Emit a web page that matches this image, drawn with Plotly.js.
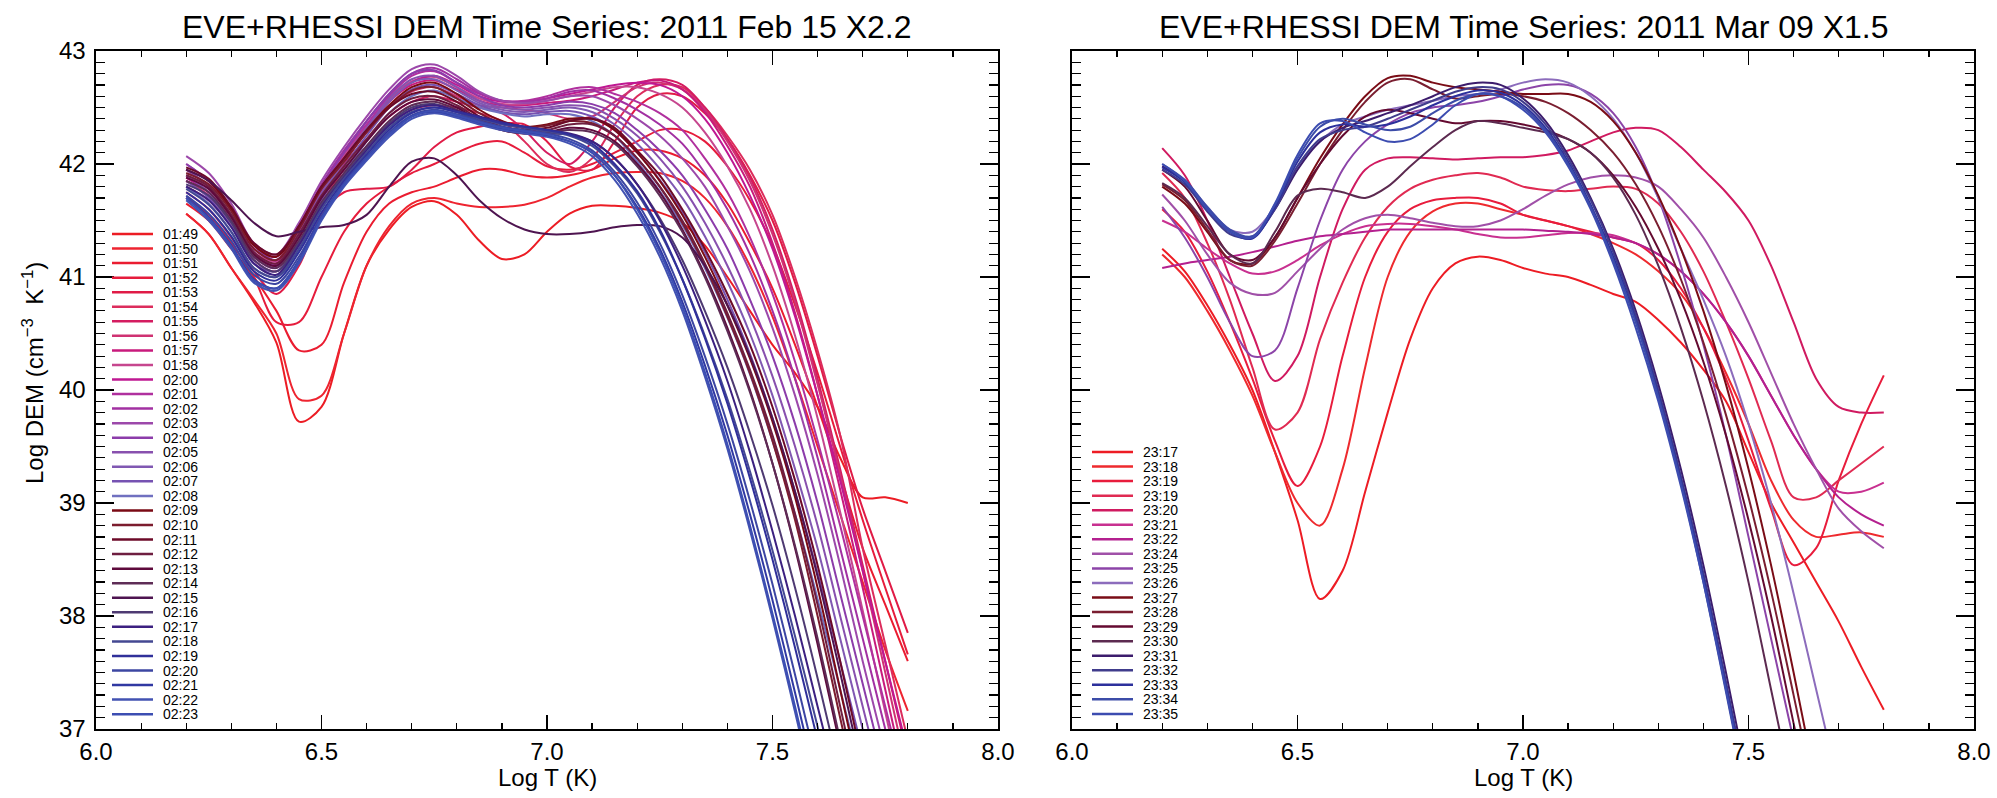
<!DOCTYPE html>
<html>
<head>
<meta charset="utf-8">
<script src="https://cdn.plot.ly/plotly-3.0.1.min.js"></script>
<style>html,body{margin:0;padding:0;background:#fff}#chart{width:1997px;height:798px}</style>
</head>
<body>
<div id="chart"></div>
<script>
// ---------- DATA ----------
const logT = [6.20,6.25,6.30,6.35,6.40,6.45,6.50,6.55,6.60,6.65,6.70,6.75,6.80,6.85,6.90,6.95,7.00,7.05,7.10,7.15,7.20,7.25,7.30,7.35,7.40,7.45,7.50,7.55,7.60,7.65,7.70,7.75,7.80];

// 2011 Feb 15 X2.2
const febLabels = ["01:49","01:50","01:51","01:52","01:53","01:54","01:55","01:56","01:57","01:58","02:00","02:01","02:02","02:03","02:04","02:05","02:06","02:07","02:08","02:09","02:10","02:11","02:12","02:13","02:14","02:15","02:16","02:17","02:18","02:19","02:20","02:21","02:22","02:23"];
const febColors = ["#ec1c24","#ee2430","#ea1c30","#e61c3c","#e01b46","#dc2c5c","#d41c60","#cf3272","#c81a7c","#c6468e","#bf1892","#b0309e","#a230a2","#9c48aa","#8c3caa","#8850ae","#8058b2","#7652b2","#7070c0","#7a0a14","#7c1c2e","#6c0a28","#6e1e40","#5e0a3c","#5e2c56","#4e1450","#4e3a72","#3c2080","#444892","#30309a","#3c46a2","#3038a2","#4252b2","#3c4eb2"];

const feb0149 = [41.56,41.38,41.08,40.78,40.42,39.72,39.85,40.50,41.10,41.42,41.62,41.67,41.55,41.32,41.16,41.20,41.40,41.56,41.63,41.63,41.61,41.57,41.48,41.28,41.00,40.70,40.40,40.15,39.85,39.40,39.05,39.05,39.00];
const feb0150 = [41.56,41.38,41.08,40.80,40.50,39.92,39.95,40.50,41.10,41.45,41.65,41.70,41.65,41.62,41.62,41.64,41.70,41.80,41.88,41.92,41.93,41.92,41.85,41.70,41.45,41.10,40.65,40.10,39.50,38.90,38.30,37.70,37.16];
const feb0151 = [41.65,41.50,41.25,41.00,40.70,40.35,40.40,40.95,41.40,41.65,41.75,41.80,41.88,41.95,41.95,41.90,41.88,41.90,41.95,42.05,42.12,42.12,42.05,41.90,41.65,41.30,40.90,40.40,39.85,39.25,38.60,38.10,37.60];
const feb0152 = [41.70,41.55,41.30,41.00,40.60,40.60,41.00,41.40,41.65,41.80,41.92,42.00,42.10,42.18,42.20,42.10,41.98,41.95,42.00,42.10,42.20,42.30,42.30,42.20,41.98,41.68,41.28,40.75,40.15,39.50,38.85,38.25,37.66];
const feb0153 = [41.75,41.60,41.35,41.05,40.85,41.10,41.55,41.75,41.78,41.80,41.95,42.15,42.28,42.33,42.36,42.35,42.20,41.98,41.95,42.20,42.50,42.62,42.60,42.45,42.22,41.90,41.50,40.95,40.30,39.60,38.95,38.40,37.85];
const feb0154 = [41.80,41.68,41.45,41.15,41.05,41.30,41.65,41.95,42.15,42.35,42.48,42.52,42.50,42.45,42.38,42.20,42.00,41.93,42.05,42.35,42.60,42.70,42.68,42.50,42.25,41.95,41.55,41.00,40.35,39.60,38.60,37.75,36.90];
const feb0155 = [41.85,41.72,41.50,41.20,41.10,41.35,41.70,42.00,42.22,42.42,42.55,42.60,42.55,42.50,42.45,42.30,42.10,42.00,42.20,42.50,42.70,42.75,42.70,42.50,42.22,41.88,41.42,40.82,40.10,39.30,38.45,37.60,36.75];
const feb0156 = [41.85,41.72,41.48,41.18,41.10,41.36,41.72,42.02,42.28,42.50,42.64,42.68,42.60,42.52,42.50,42.48,42.45,42.40,42.42,42.55,42.68,42.72,42.66,42.48,42.20,41.85,41.38,40.78,40.05,39.25,38.40,37.50,36.60];
const feb0157 = [41.88,41.75,41.50,41.20,41.12,41.40,41.76,42.06,42.32,42.55,42.70,42.74,42.66,42.56,42.52,42.52,42.54,42.56,42.60,42.66,42.72,42.74,42.66,42.46,42.16,41.80,41.30,40.68,39.95,39.12,38.25,37.35,36.45];
const feb0158 = [41.90,41.78,41.52,41.22,41.14,41.42,41.78,42.08,42.34,42.57,42.73,42.77,42.68,42.58,42.53,42.53,42.56,42.60,42.64,42.68,42.68,42.62,42.50,42.28,41.98,41.60,41.10,40.48,39.75,38.92,38.05,37.15,36.25];
const feb0200 = [41.88,41.75,41.50,41.20,41.12,41.38,41.75,42.05,42.30,42.55,42.72,42.78,42.70,42.60,42.55,42.55,42.58,42.62,42.66,42.70,42.72,42.70,42.60,42.40,42.10,41.72,41.25,40.65,39.95,39.20,38.40,37.60,36.80];
const feb0201 = [41.95,41.80,41.55,41.25,41.15,41.42,41.80,42.10,42.35,42.60,42.78,42.82,42.72,42.62,42.56,42.56,42.60,42.66,42.68,42.62,42.55,42.45,42.30,42.05,41.75,41.35,40.85,40.25,39.55,38.80,38.00,37.20,36.40];
const feb0202 = [42.00,41.85,41.60,41.28,41.18,41.45,41.82,42.12,42.38,42.62,42.80,42.85,42.75,42.63,42.56,42.55,42.58,42.64,42.65,42.58,42.48,42.35,42.18,41.92,41.60,41.20,40.70,40.10,39.40,38.60,37.80,37.00,36.20];
const feb0203 = [42.07,41.92,41.65,41.30,41.20,41.48,41.85,42.15,42.42,42.66,42.84,42.88,42.78,42.64,42.56,42.54,42.56,42.60,42.60,42.52,42.40,42.25,42.05,41.80,41.45,41.05,40.55,39.95,39.25,38.45,37.60,36.80,36.00];
const feb0204 = [42.00,41.85,41.60,41.28,41.15,41.42,41.80,42.10,42.38,42.62,42.80,42.83,42.72,42.60,42.52,42.50,42.52,42.55,42.53,42.45,42.30,42.12,41.90,41.60,41.25,40.80,40.30,39.70,39.00,38.20,37.40,36.60,35.80];
const feb0205 = [41.95,41.80,41.55,41.22,41.10,41.38,41.75,42.05,42.32,42.58,42.75,42.78,42.68,42.56,42.50,42.48,42.50,42.52,42.50,42.40,42.25,42.05,41.80,41.48,41.10,40.65,40.12,39.50,38.80,38.00,37.20,36.40,35.60];
const feb0206 = [41.90,41.75,41.50,41.18,41.08,41.35,41.72,42.02,42.30,42.55,42.72,42.75,42.65,42.54,42.48,42.46,42.48,42.50,42.46,42.35,42.18,41.96,41.70,41.36,40.96,40.50,39.95,39.30,38.60,37.80,37.00,36.20,35.40];
const feb0207 = [41.85,41.70,41.45,41.12,41.05,41.30,41.68,41.98,42.25,42.50,42.66,42.70,42.62,42.52,42.46,42.44,42.46,42.47,42.42,42.30,42.10,41.86,41.58,41.22,40.80,40.32,39.75,39.10,38.38,37.60,36.80,36.00,35.20];
const feb0208 = [41.80,41.65,41.40,41.08,41.00,41.25,41.62,41.92,42.20,42.45,42.60,42.65,42.58,42.50,42.45,42.42,42.44,42.44,42.38,42.25,42.02,41.76,41.46,41.08,40.64,40.14,39.55,38.90,38.15,37.35,36.55,35.75,34.95];
const feb0209 = [41.95,41.85,41.60,41.28,41.18,41.45,41.80,42.05,42.30,42.52,42.68,42.72,42.62,42.48,42.38,42.33,42.35,42.40,42.40,42.30,42.10,41.85,41.55,41.18,40.75,40.28,39.72,39.05,38.25,37.35,36.45,35.55,34.65];
const feb0210 = [41.92,41.82,41.58,41.25,41.15,41.42,41.78,42.02,42.28,42.50,42.65,42.68,42.58,42.45,42.36,42.32,42.34,42.38,42.36,42.25,42.05,41.80,41.48,41.10,40.65,40.15,39.55,38.85,38.00,37.10,36.20,35.30,34.40];
const feb0211 = [41.97,41.87,41.62,41.30,41.20,41.45,41.80,42.05,42.30,42.50,42.62,42.64,42.55,42.42,42.33,42.30,42.32,42.38,42.40,42.32,42.12,41.90,41.60,41.25,40.85,40.40,39.85,39.20,38.45,37.60,36.70,35.80,34.90];
const feb0212 = [41.90,41.80,41.55,41.22,41.12,41.38,41.72,41.98,42.22,42.45,42.58,42.60,42.52,42.40,42.32,42.28,42.30,42.35,42.35,42.25,42.05,41.80,41.50,41.12,40.68,40.18,39.60,38.90,38.10,37.20,36.30,35.40,34.50];
const feb0213 = [41.88,41.78,41.53,41.20,41.10,41.35,41.70,41.95,42.20,42.42,42.55,42.57,42.50,42.38,42.30,42.27,42.28,42.32,42.30,42.20,42.00,41.75,41.42,41.02,40.55,40.00,39.35,38.60,37.75,36.85,35.95,35.05,34.15];
const feb0214 = [41.85,41.75,41.50,41.18,41.08,41.32,41.66,41.92,42.16,42.38,42.52,42.55,42.48,42.38,42.30,42.27,42.28,42.30,42.28,42.18,41.98,41.72,41.40,41.00,40.52,39.98,39.35,38.62,37.80,36.90,36.00,35.10,34.20];
const feb0215 = [41.95,41.85,41.68,41.48,41.36,41.40,41.44,41.46,41.55,41.80,42.02,42.05,41.90,41.68,41.52,41.42,41.38,41.38,41.40,41.44,41.46,41.45,41.35,41.10,40.75,40.30,39.75,39.10,38.35,37.50,36.60,35.70,34.80];
const feb0216 = [41.82,41.72,41.48,41.15,41.05,41.30,41.64,41.90,42.14,42.36,42.50,42.53,42.46,42.38,42.32,42.28,42.27,42.26,42.20,42.05,41.82,41.52,41.15,40.70,40.20,39.62,38.98,38.25,37.45,36.60,35.75,34.90,34.05];
const feb0217 = [41.80,41.68,41.44,41.12,41.02,41.28,41.62,41.88,42.12,42.34,42.48,42.52,42.47,42.42,42.37,42.33,42.30,42.27,42.20,42.05,41.82,41.50,41.10,40.62,40.08,39.45,38.75,38.00,37.20,36.40,35.60,34.80,34.00];
const feb0218 = [41.78,41.64,41.40,41.08,41.00,41.25,41.60,41.87,42.10,42.32,42.46,42.50,42.46,42.40,42.35,42.32,42.29,42.25,42.16,41.98,41.74,41.40,40.98,40.48,39.92,39.28,38.58,37.82,37.02,36.20,35.40,34.60,33.80];
const feb0219 = [41.75,41.60,41.36,41.05,40.97,41.22,41.57,41.85,42.08,42.30,42.45,42.50,42.46,42.41,42.36,42.33,42.30,42.26,42.18,42.00,41.76,41.42,40.98,40.46,39.88,39.22,38.50,37.72,36.90,36.10,35.30,34.50,33.70];
const feb0220 = [41.72,41.56,41.32,41.02,40.94,41.18,41.54,41.83,42.06,42.28,42.43,42.48,42.44,42.38,42.33,42.30,42.27,42.22,42.12,41.93,41.66,41.30,40.84,40.30,39.70,39.02,38.28,37.48,36.65,35.85,35.05,34.25,33.45];
const feb0221 = [41.70,41.53,41.28,40.98,40.90,41.15,41.52,41.82,42.05,42.26,42.42,42.46,42.42,42.36,42.31,42.28,42.25,42.20,42.10,41.90,41.62,41.25,40.78,40.22,39.60,38.90,38.14,37.32,36.48,35.68,34.88,34.08,33.28];
const feb0222 = [41.68,41.50,41.25,40.95,40.88,41.12,41.50,41.80,42.03,42.24,42.40,42.45,42.41,42.35,42.30,42.27,42.24,42.18,42.07,41.86,41.56,41.18,40.70,40.12,39.48,38.76,37.98,37.15,36.30,35.50,34.70,33.90,33.10];
const feb0223 = [41.70,41.52,41.27,40.97,40.90,41.14,41.52,41.82,42.05,42.26,42.42,42.47,42.43,42.37,42.32,42.29,42.26,42.20,42.10,41.90,41.60,41.22,40.74,40.16,39.52,38.80,38.02,37.20,36.35,35.55,34.75,33.95,33.15];
const febSeries = [feb0149,feb0150,feb0151,feb0152,feb0153,feb0154,feb0155,feb0156,feb0157,feb0158,feb0200,feb0201,feb0202,feb0203,feb0204,feb0205,feb0206,feb0207,feb0208,feb0209,feb0210,feb0211,feb0212,feb0213,feb0214,feb0215,feb0216,feb0217,feb0218,feb0219,feb0220,feb0221,feb0222,feb0223];

// 2011 Mar 09 X1.5
const marLabels = ["23:17","23:18","23:19","23:19","23:20","23:21","23:22","23:24","23:25","23:26","23:27","23:28","23:29","23:30","23:31","23:32","23:33","23:34","23:35"];
const marColors = ["#ed1c24","#ee2a2e","#e81c3c","#e02a52","#d01a60","#c83090","#b4208f","#a050a8","#8c44a8","#8c6cbc","#7a0c16","#7a1e30","#640a30","#5c2a50","#3c1c6c","#403c8c","#2c309c","#3c4ca8","#3c4cb0"];

const mar2317  = [41.25,41.05,40.75,40.40,40.00,39.45,38.85,38.15,38.40,39.10,39.80,40.45,40.90,41.12,41.18,41.15,41.08,41.03,41.00,40.93,40.85,40.78,40.62,40.42,40.18,39.90,39.45,39.00,38.65,38.30,37.95,37.55,37.17];
const mar2318  = [41.20,41.00,40.70,40.35,39.95,39.45,39.00,38.80,39.30,40.20,41.00,41.40,41.58,41.65,41.65,41.60,41.55,41.50,41.45,41.38,41.30,41.20,41.05,40.85,40.55,40.15,39.70,39.20,38.85,38.70,38.72,38.74,38.70];
const mar2319a = [41.60,41.40,41.05,40.60,40.10,39.55,39.15,39.50,40.30,41.00,41.40,41.60,41.68,41.70,41.70,41.65,41.55,41.50,41.45,41.40,41.35,41.30,41.15,40.90,40.55,40.10,39.55,38.95,38.45,38.60,39.20,39.70,40.13];
const mar2319b = [41.92,41.70,41.30,40.80,40.20,39.65,39.80,40.45,40.95,41.35,41.62,41.78,41.86,41.90,41.92,41.88,41.80,41.77,41.76,41.78,41.80,41.78,41.65,41.40,41.05,40.60,40.10,39.55,39.05,39.05,39.20,39.35,39.50];
const mar2320  = [42.14,41.90,41.50,41.00,40.50,40.08,40.30,41.00,41.60,41.95,42.05,42.06,42.05,42.04,42.05,42.06,42.06,42.08,42.12,42.20,42.28,42.32,42.30,42.15,41.95,41.75,41.50,41.10,40.60,40.10,39.85,39.80,39.80];
const mar2321  = [41.50,41.40,41.25,41.12,41.03,41.05,41.15,41.28,41.38,41.45,41.47,41.47,41.45,41.42,41.38,41.35,41.35,41.37,41.39,41.39,41.37,41.30,41.20,41.05,40.85,40.60,40.30,39.95,39.60,39.30,39.10,39.10,39.18];
const mar2322  = [41.08,41.12,41.15,41.18,41.22,41.27,41.32,41.36,41.38,41.40,41.42,41.42,41.42,41.42,41.42,41.42,41.42,41.41,41.40,41.38,41.35,41.30,41.20,41.05,40.85,40.60,40.30,39.95,39.60,39.30,39.05,38.90,38.80];
const mar2324  = [41.73,41.50,41.20,40.95,40.85,40.86,41.05,41.25,41.42,41.52,41.55,41.52,41.48,41.45,41.45,41.50,41.60,41.72,41.82,41.88,41.90,41.88,41.80,41.60,41.35,41.00,40.60,40.15,39.70,39.30,38.95,38.75,38.60];
const mar2325  = [41.62,41.35,41.00,40.60,40.30,40.35,40.90,41.50,41.95,42.20,42.35,42.45,42.50,42.52,42.55,42.60,42.66,42.70,42.70,42.62,42.45,42.15,41.70,41.10,40.40,39.60,38.70,37.80,36.90,36.00,35.10,34.20,33.30];
const mar2326  = [41.98,41.85,41.62,41.42,41.40,41.62,41.98,42.20,42.35,42.42,42.48,42.52,42.56,42.60,42.62,42.66,42.72,42.75,42.72,42.60,42.40,42.10,41.70,41.25,40.80,40.30,39.70,39.00,38.20,37.35,36.50,35.65,34.80];
const mar2327  = [41.80,41.65,41.40,41.15,41.12,41.35,41.70,42.05,42.35,42.60,42.76,42.78,42.72,42.68,42.66,42.64,42.62,42.62,42.62,42.55,42.38,42.10,41.72,41.25,40.70,40.05,39.30,38.45,37.50,36.50,35.50,34.50,33.50];
const mar2328  = [41.82,41.68,41.42,41.15,41.10,41.32,41.65,42.00,42.30,42.55,42.72,42.75,42.66,42.58,42.60,42.62,42.60,42.55,42.45,42.30,42.10,41.82,41.45,40.98,40.42,39.78,39.05,38.22,37.30,36.35,35.40,34.45,33.50];
const mar2329  = [41.95,41.80,41.50,41.20,41.15,41.35,41.70,42.00,42.25,42.42,42.48,42.45,42.40,42.36,42.38,42.38,42.35,42.30,42.22,42.10,41.90,41.62,41.25,40.80,40.25,39.60,38.85,38.00,37.05,36.10,35.15,34.20,33.25];
const mar2330  = [41.83,41.70,41.45,41.20,41.12,41.40,41.72,41.78,41.75,41.70,41.80,41.98,42.15,42.30,42.38,42.36,42.32,42.28,42.22,42.10,41.88,41.55,41.10,40.55,39.90,39.15,38.30,37.35,36.40,35.45,34.50,33.55,32.60];
const mar2331  = [41.98,41.85,41.60,41.40,41.36,41.60,41.95,42.20,42.32,42.38,42.45,42.52,42.60,42.68,42.72,42.70,42.58,42.38,42.08,41.70,41.25,40.70,40.05,39.30,38.45,37.50,36.50,35.50,34.50,33.50,32.50,31.50,30.50];
const mar2332  = [41.95,41.82,41.58,41.38,41.35,41.60,41.98,42.22,42.30,42.33,42.40,42.48,42.56,42.64,42.68,42.66,42.55,42.35,42.05,41.68,41.22,40.66,40.00,39.24,38.38,37.42,36.42,35.42,34.42,33.42,32.42,31.42,30.42];
const mar2333  = [41.97,41.84,41.60,41.40,41.34,41.62,42.02,42.28,42.35,42.33,42.35,42.42,42.52,42.60,42.65,42.63,42.52,42.32,42.02,41.64,41.18,40.62,39.96,39.20,38.33,37.37,36.37,35.37,34.37,33.37,32.37,31.37,30.37];
const mar2334  = [42.00,41.86,41.62,41.42,41.36,41.64,42.05,42.33,42.40,42.35,42.30,42.33,42.45,42.56,42.62,42.60,42.50,42.30,42.00,41.62,41.15,40.60,39.94,39.18,38.30,37.33,36.33,35.33,34.33,33.33,32.33,31.33,30.33];
const mar2335  = [42.00,41.85,41.60,41.40,41.35,41.65,42.08,42.36,42.38,42.28,42.20,42.22,42.35,42.52,42.62,42.60,42.48,42.28,41.98,41.60,41.12,40.55,39.90,39.15,38.30,37.35,36.35,35.35,34.35,33.35,32.35,31.35,30.35];
const marSeries = [mar2317,mar2318,mar2319a,mar2319b,mar2320,mar2321,mar2322,mar2324,mar2325,mar2326,mar2327,mar2328,mar2329,mar2330,mar2331,mar2332,mar2333,mar2334,mar2335];

const xTickVals = [6.0, 6.5, 7.0, 7.5, 8.0];
const xTickText = ["6.0", "6.5", "7.0", "7.5", "8.0"];
const yTickVals = [37, 38, 39, 40, 41, 42, 43];

// ---------- FIGURE ----------
const W = 1997, H = 798;
const FONT = "Liberation Sans, Arial, Helvetica, sans-serif";
const px = v => v / W;
const py = v => 1 - v / H;

const traces = [];
febSeries.forEach((s, i) => traces.push({
  x: logT, y: s, type: 'scatter', mode: 'lines', xaxis: 'x', yaxis: 'y',
  line: {color: febColors[i], width: 2, shape: 'spline', smoothing: 0.9},
  name: febLabels[i], showlegend: false, hoverinfo: 'skip'
}));
marSeries.forEach((s, i) => traces.push({
  x: logT, y: s, type: 'scatter', mode: 'lines', xaxis: 'x2', yaxis: 'y2',
  line: {color: marColors[i], width: 2, shape: 'spline', smoothing: 0.9},
  name: marLabels[i], showlegend: false, hoverinfo: 'skip'
}));

function xax(domain) {
  return {
    domain: domain, range: [6, 8], tickvals: xTickVals, ticktext: xTickText,
    ticks: 'inside', ticklen: 14, tickwidth: 1.2, tickcolor: '#000',
    minor: {dtick: 0.1, tick0: 6, ticks: 'inside', ticklen: 6, tickwidth: 1.2, tickcolor: '#000'},
    showline: true, linecolor: '#000', linewidth: 1.6, mirror: 'ticks',
    showgrid: false, zeroline: false, ticklabelstandoff: 1,
    tickfont: {family: FONT, size: 24, color: '#000'}, fixedrange: true
  };
}
function yax(domain, anchor, labels) {
  return {
    domain: domain, range: [37, 43], tickvals: yTickVals, anchor: anchor,
    ticks: 'inside', ticklen: 18, tickwidth: 1.2, tickcolor: '#000',
    minor: {dtick: 0.1, tick0: 37, ticks: 'inside', ticklen: 9, tickwidth: 1.2, tickcolor: '#000'},
    showline: true, linecolor: '#000', linewidth: 1.6, mirror: 'ticks',
    showgrid: false, zeroline: false, showticklabels: labels, ticklabelstandoff: 4,
    tickfont: {family: FONT, size: 24, color: '#000'}, fixedrange: true
  };
}

const yDom = [1 - 729 / H, 1 - 51 / H];
const leftDom = [96 / W, 998 / W];
const rightDom = [1072 / W, 1974 / W];

const annotations = [
  {text: "EVE+RHESSI DEM Time Series: 2011 Feb 15 X2.2", x: px(547), y: py(27), xref: 'paper', yref: 'paper',
   xanchor: 'center', yanchor: 'middle', showarrow: false, font: {family: FONT, size: 32, color: '#000'}},
  {text: "EVE+RHESSI DEM Time Series: 2011 Mar 09 X1.5", x: px(1523), y: py(27), xref: 'paper', yref: 'paper',
   xanchor: 'center', yanchor: 'middle', showarrow: false, font: {family: FONT, size: 32, color: '#000'}},
  {text: "Log T (K)", x: px(547), y: py(777), xref: 'paper', yref: 'paper', xanchor: 'center', yanchor: 'middle',
   showarrow: false, font: {family: FONT, size: 24, color: '#000'}},
  {text: "Log T (K)", x: px(1523), y: py(777), xref: 'paper', yref: 'paper', xanchor: 'center', yanchor: 'middle',
   showarrow: false, font: {family: FONT, size: 24, color: '#000'}},
  {text: "Log DEM (cm<sup>\u22123</sup>  K<sup>\u22121</sup>)", x: px(33), y: py(373), xref: 'paper', yref: 'paper',
   xanchor: 'center', yanchor: 'middle', textangle: -90, showarrow: false, font: {family: FONT, size: 24, color: '#000'}}
];
const shapes = [];
const STEP = 14.55;
function addLegend(labels, colors, x0, x1, xt, yStart) {
  labels.forEach((lab, i) => {
    const yy = yStart + i * STEP;
    shapes.push({type: 'line', xref: 'paper', yref: 'paper', x0: px(x0), x1: px(x1), y0: py(yy), y1: py(yy),
      line: {color: colors[i], width: 2.5}});
    annotations.push({text: lab, x: px(xt), y: py(yy), xref: 'paper', yref: 'paper', xanchor: 'left', yanchor: 'middle',
      showarrow: false, font: {family: FONT, size: 14, color: '#000'}});
  });
}
addLegend(febLabels, febColors, 112, 153, 161, 234);
addLegend(marLabels, marColors, 1092, 1133, 1141, 452);

const layout = {
  width: W, height: H, margin: {l: 0, r: 0, t: 0, b: 0, autoexpand: false},
  paper_bgcolor: '#fff', plot_bgcolor: '#fff', showlegend: false,
  xaxis: xax(leftDom), yaxis: yax(yDom, 'x', true),
  xaxis2: Object.assign(xax(rightDom), {anchor: 'y2'}), yaxis2: yax(yDom, 'x2', false),
  annotations: annotations, shapes: shapes
};
layout.xaxis.anchor = 'y';

Plotly.newPlot('chart', traces, layout, {staticPlot: true, displayModeBar: false});
</script>
</body>
</html>
